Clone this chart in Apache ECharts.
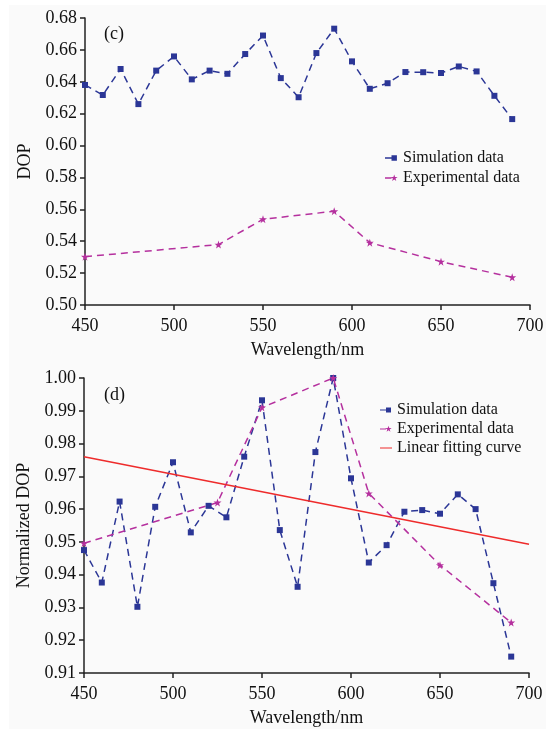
<!DOCTYPE html>
<html><head><meta charset="utf-8">
<script src="https://cdn.jsdelivr.net/npm/echarts@6/dist/echarts.min.js"></script>
<style>html,body{margin:0;padding:0;background:#fff}#c{width:558px;height:729px}</style>
</head><body><div id="c"></div>
<script>
const simWl = [450,460,470,480,490,500,510,520,530,540,550,560,570,580,590,600,610,620,630,640,650,660,670,680,690];
const simDop = [0.638,0.6317,0.648,0.626,0.647,0.6559,0.6415,0.647,0.645,0.6574,0.669,0.6423,0.6303,0.658,0.6733,0.6528,0.6356,0.6391,0.6461,0.646,0.6455,0.6496,0.6465,0.6312,0.6166];
const expWl = [450,525,550,590,610,650,690];
const expDop = [0.5303,0.5379,0.5538,0.5588,0.5391,0.5272,0.5174];
const simNorm = [0.9475,0.9376,0.9623,0.9302,0.9607,0.9743,0.9529,0.961,0.9575,0.976,0.9932,0.9536,0.9363,0.9774,1.000,0.9694,0.9437,0.949,0.9592,0.9597,0.9586,0.9645,0.96,0.9374,0.915];
const expNorm = [0.9496,0.962,0.991,1.000,0.9648,0.9429,0.9254];
const fitWl = [450,700];
const fitNorm = [0.976,0.9493];
const xTicks = [450,500,550,600,650,700];

const zip = (a,b)=>a.map((v,i)=>[v,b[i]]);
const BLUE='#2b3696', MAG='#b5309e', RED='#ee2b2b';
const FONT='Liberation Serif';
const STAR='path://M50,0 L61.8,35.1 L98.1,35.1 L68.8,56.8 L79.4,91.5 L50,70 L20.6,91.5 L31.2,56.8 L1.9,35.1 L38.2,35.1 Z';
const CORNERS='M0,0 L0.01,0 L0,0.01 Z M12,7 L11.99,7 L12,6.99 Z ';
const ICON_SIM='path://'+CORNERS+'M0,2.9 L6,2.9 L6,4.1 L0,4.1 Z M6,1 L11,1 L11,6 L6,6 Z';
const ICON_EXP='path://'+CORNERS+'M0,2.9 L6,2.9 L6,4.1 L0,4.1 Z M8.5,0.25 L9.27,2.53 L11.63,2.53 L9.72,3.94 L10.41,6.2 L8.5,4.8 L6.59,6.2 L7.28,3.94 L5.37,2.53 L7.73,2.53 Z';
const ICON_FIT='path://'+CORNERS+'M0,2.9 L12,2.9 L12,4.1 L0,4.1 Z';

function xAx(gi){return {type:'value',gridIndex:gi,min:xTicks[0],max:xTicks[xTicks.length-1],interval:50,
  name:'Wavelength/nm',nameLocation:'middle',nameGap:36,nameTextStyle:{fontFamily:FONT,fontSize:18,color:'#111'},
  axisLine:{lineStyle:{color:'#222',width:1.5}},axisTick:{length:5,lineStyle:{color:'#222',width:1.5}},
  axisLabel:{fontFamily:FONT,fontSize:18,color:'#111',margin:12},splitLine:{show:false}};}
function yAx(gi,min,max,iv,name,gap){return {type:'value',gridIndex:gi,min:min,max:max,interval:iv,
  name:name,nameLocation:'middle',nameGap:gap,nameTextStyle:{fontFamily:FONT,fontSize:18,color:'#111'},
  axisLine:{show:true,lineStyle:{color:'#222',width:1.5}},axisTick:{show:true,length:5,lineStyle:{color:'#222',width:1.5}},
  axisLabel:{fontFamily:FONT,fontSize:18,color:'#111',margin:8,formatter:v=>v.toFixed(2)},splitLine:{show:false}};}

const chart = echarts.init(document.getElementById('c'),null,{renderer:'canvas'});
chart.setOption({
  backgroundColor:'#fff',
  animation:false,
  graphic:[
    {type:'rect',shape:{x:9,y:5,width:537,height:724},style:{fill:'#fafafa'},z:-10},
    {type:'text',left:104,top:25,style:{text:'(c)',fontFamily:FONT,fontSize:18,fill:'#111'}},
    {type:'text',left:104,top:386,style:{text:'(d)',fontFamily:FONT,fontSize:18,fill:'#111'}}
  ],
  grid:[
    {left:85,right:28,top:18,height:287},
    {left:84,right:29,top:378,height:295}
  ],
  xAxis:[xAx(0),xAx(1)],
  yAxis:[yAx(0,0.50,0.68,0.02,'DOP',48),yAx(1,0.91,1.00,0.01,'Normalized DOP',48)],
  legend:[
    {left:380,top:145,orient:'vertical',itemGap:4,itemWidth:13,itemHeight:8,
     textStyle:{fontFamily:FONT,fontSize:16,color:'#111'},
     data:[{name:'Simulation data',icon:ICON_SIM},{name:'Experimental data',icon:ICON_EXP}]},
    {left:375,top:397,orient:'vertical',itemGap:3,itemWidth:12,itemHeight:8,
     textStyle:{fontFamily:FONT,fontSize:16,color:'#111'},
     data:[{name:'Simulation data ',icon:ICON_SIM},{name:'Experimental data ',icon:ICON_EXP},{name:'Linear fitting curve',icon:ICON_FIT}]}
  ],
  series:[
    {name:'Simulation data',type:'line',xAxisIndex:0,yAxisIndex:0,data:zip(simWl,simDop),
     symbol:'rect',symbolSize:6,lineStyle:{color:BLUE,width:1.5,type:[7,5]},itemStyle:{color:BLUE}},
    {name:'Experimental data',type:'line',xAxisIndex:0,yAxisIndex:0,data:zip(expWl,expDop),
     symbol:STAR,symbolSize:8,lineStyle:{color:MAG,width:1.5,type:[7,5]},itemStyle:{color:MAG}},
    {name:'Simulation data ',type:'line',xAxisIndex:1,yAxisIndex:1,data:zip(simWl,simNorm),
     symbol:'rect',symbolSize:6,lineStyle:{color:BLUE,width:1.5,type:[7,5]},itemStyle:{color:BLUE}},
    {name:'Experimental data ',type:'line',xAxisIndex:1,yAxisIndex:1,data:zip(expWl,expNorm),
     symbol:STAR,symbolSize:8,lineStyle:{color:MAG,width:1.5,type:[7,5]},itemStyle:{color:MAG}},
    {name:'Linear fitting curve',type:'line',xAxisIndex:1,yAxisIndex:1,data:zip(fitWl,fitNorm),
     symbol:'none',lineStyle:{color:RED,width:1.5},itemStyle:{color:RED}}
  ]
});
</script></body></html>
